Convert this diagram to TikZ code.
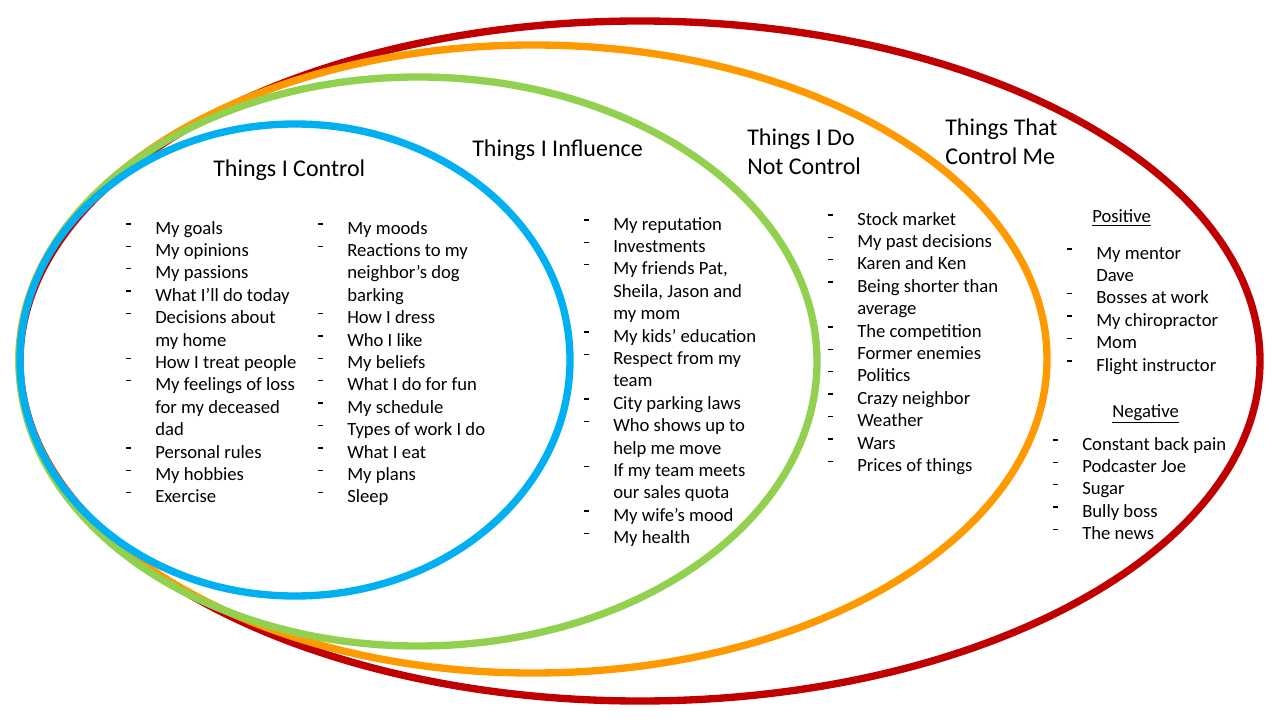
\documentclass[tikz,border=0pt]{standalone}
\usepackage{fontspec}
\setmainfont{Carlito}
\usetikzlibrary{shapes.geometric}
\definecolor{cblue}{HTML}{00B0F0}
\definecolor{cgreen}{HTML}{92D050}
\definecolor{corange}{HTML}{FF9900}
\definecolor{cred}{HTML}{C00000}
\newcommand{\dsh}{\makebox[21.75pt][l]{\rule[7pt]{3.75pt}{1.1pt}}}
\newcommand{\ind}{\hspace*{21.75pt}}
\tikzset{
  ring/.style={draw, ellipse, line width=5.5pt, inner sep=0pt, outer sep=0pt},
  lst/.style={anchor=base west, inner sep=0pt, font=\fontsize{14}{16.8}\selectfont},
  ttl/.style={anchor=base west, inner sep=0pt, font=\fontsize{18}{21.6}\selectfont},
}
\begin{document}
\begin{tikzpicture}[x=0.75pt, y=-0.75pt]
\useasboundingbox (0,0) rectangle (1280,720);
\fill[white] (0,0) rectangle (1280,720);
% rings
\node[ring, draw=cred, minimum width=930pt, minimum height=510pt] (red) at (640,361) {};
\node[ring, draw=corange, minimum width=771pt, minimum height=471pt] (orange) at (533,359) {};
\node[ring, draw=cgreen, minimum width=598.5pt, minimum height=426.75pt] (green) at (418,361.5) {};
\node[ring, draw=cblue, minimum width=412.5pt, minimum height=354pt] (blue) at (295,360) {};
% titles
\node[ttl] (t1) at (213,177) {Things I Control};
\node[ttl] (t2) at (472,156.5) {Things I Influence};
\node[ttl] (t3) at (747,146) {\begin{tabular}[t]{@{}l@{}}Things I Do\\Not Control\end{tabular}};
\node[ttl] (t4) at (945,136) {\begin{tabular}[t]{@{}l@{}}Things That\\Control Me\end{tabular}};
% lists
\node[lst] (l1) at (126,234) {\begin{tabular}[t]{@{}l@{}}
\dsh My goals\\
\dsh My opinions\\
\dsh My passions\\
\dsh What I’ll do today\\
\dsh Decisions about\\
\ind my home\\
\dsh How I treat people\\
\dsh My feelings of loss\\
\ind for my deceased\\
\ind dad\\
\dsh Personal rules\\
\dsh My hobbies\\
\dsh Exercise
\end{tabular}};
\node[lst] (l2) at (318,234) {\begin{tabular}[t]{@{}l@{}}
\dsh My moods\\
\dsh Reactions to my\\
\ind neighbor’s dog\\
\ind barking\\
\dsh How I dress\\
\dsh Who I like\\
\dsh My beliefs\\
\dsh What I do for fun\\
\dsh My schedule\\
\dsh Types of work I do\\
\dsh What I eat\\
\dsh My plans\\
\dsh Sleep
\end{tabular}};
\node[lst] (l3) at (584,230) {\begin{tabular}[t]{@{}l@{}}
\dsh My reputation\\
\dsh Investments\\
\dsh My friends Pat,\\
\ind Sheila, Jason and\\
\ind my mom\\
\dsh My kids’ education\\
\dsh Respect from my\\
\ind team\\
\dsh City parking laws\\
\dsh Who shows up to\\
\ind help me move\\
\dsh If my team meets\\
\ind our sales quota\\
\dsh My wife’s mood\\
\dsh My health
\end{tabular}};
\node[lst] (l4) at (828,225) {\begin{tabular}[t]{@{}l@{}}
\dsh Stock market\\
\dsh My past decisions\\
\dsh Karen and Ken\\
\dsh Being shorter than\\
\ind average\\
\dsh The competition\\
\dsh Former enemies\\
\dsh Politics\\
\dsh Crazy neighbor\\
\dsh Weather\\
\dsh Wars\\
\dsh Prices of things
\end{tabular}};
\node[lst] (pos) at (1092,223) {\underline{Positive}};
\node[lst] (l5) at (1067,259) {\begin{tabular}[t]{@{}l@{}}
\dsh My mentor\\
\ind Dave\\
\dsh Bosses at work\\
\dsh My chiropractor\\
\dsh Mom\\
\dsh Flight instructor
\end{tabular}};
\node[lst] (neg) at (1112,417) {\underline{Negative}};
\node[lst] (l6) at (1053,450) {\begin{tabular}[t]{@{}l@{}}
\dsh Constant back pain\\
\dsh Podcaster Joe\\
\dsh Sugar\\
\dsh Bully boss\\
\dsh The news
\end{tabular}};
\end{tikzpicture}
\end{document}
